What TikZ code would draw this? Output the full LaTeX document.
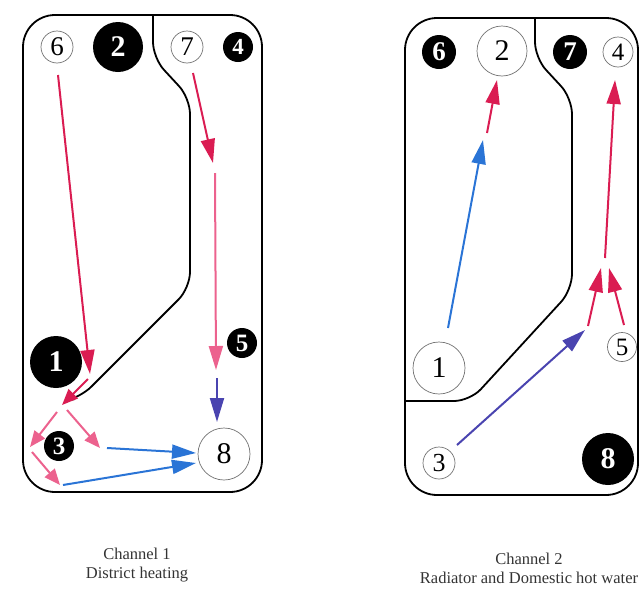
\documentclass[tikz,border=0pt]{standalone}
\usepackage{fontspec}
\setmainfont{Liberation Serif}
\usetikzlibrary{arrows.meta}
\definecolor{hotred}{RGB}{218,28,82}
\definecolor{hotpink}{RGB}{236,98,142}
\definecolor{coldblue}{RGB}{42,116,214}
\definecolor{mixblue}{RGB}{74,68,176}

\begin{document}
\begin{tikzpicture}[x=1pt,y=-1pt,
    frame/.style={line width=1.8pt, rounded corners=32pt},
    wall/.style={line width=1.8pt, rounded corners=16pt},
    blk/.style={circle, fill=black, text=white, inner sep=0pt,
      font=\bfseries\fontsize{27}{27}\selectfont},
    wht/.style={circle, draw=black!55, line width=0.7pt, fill=white, inner sep=0pt,
      font=\fontsize{27}{27}\selectfont},
    flow/.style={line width=2pt, -{Triangle[length=24pt,width=14pt]}},
    shortflow/.style={line width=2pt, -{Triangle[length=16pt,width=13pt]}},
    caption/.style={align=center, font=\fontsize{16.5}{19}\selectfont, text=black!80}]
  \useasboundingbox (0,0) rectangle (640,592);

  \draw [frame] (23,15) rectangle (262,492);
  \draw [wall] (153,15) -- (153,58) -- (190,98) -- (190,288) -- (80,398) -- (75,399);

  \draw [frame] (405,18) rectangle (638,495);
  \draw [wall] (535,18) -- (535,58) -- (572,98) -- (572,290) -- (470,401) -- (405,401);

  \node [wht, minimum size=32pt] (L6) at (57,47) {6};
  \node [blk, minimum size=50pt, font=\bfseries\fontsize{30}{30}\selectfont] (L2) at (118,47) {2};
  \node [wht, minimum size=32pt] (L7) at (187,47) {7};
  \node [blk, minimum size=30pt, font=\bfseries\fontsize{23}{23}\selectfont] (L4) at (238,47) {4};
  \node [blk, minimum size=52pt, font=\bfseries\fontsize{30}{30}\selectfont] (L1) at (56,362) {1};
  \node [blk, minimum size=30pt, font=\bfseries\fontsize{25}{25}\selectfont] (L3) at (59,446) {3};
  \node [blk, minimum size=30pt, font=\bfseries\fontsize{25}{25}\selectfont] (L5) at (242,343) {5};
  \node [wht, minimum size=52pt, font=\fontsize{30}{30}\selectfont] (L8) at (224,454) {8};

  \node [blk, minimum size=34pt] (R6) at (439,52) {6};
  \node [wht, minimum size=50pt, font=\fontsize{30}{30}\selectfont] (R2) at (502,51) {2};
  \node [blk, minimum size=34pt] (R7) at (570,52) {7};
  \node [wht, minimum size=30pt, font=\fontsize{25}{25}\selectfont] (R4) at (618,52) {4};
  \node [wht, minimum size=52pt, font=\fontsize{30}{30}\selectfont] (R1) at (439,368) {1};
  \node [wht, minimum size=29pt, font=\fontsize{25}{25}\selectfont] (R5) at (622,347) {5};
  \node [wht, minimum size=32pt, font=\fontsize{26}{26}\selectfont] (R3) at (439,463) {3};
  \node [blk, minimum size=52pt, font=\bfseries\fontsize{30}{30}\selectfont] (R8) at (608,459) {8};

  \coordinate (l6out) at (58,75);
  \coordinate (l1in) at (90,374);
  \coordinate (l1out) at (88,379);
  \coordinate (lfork) at (62,405);
  \coordinate (lforka) at (57,412);
  \coordinate (l3w) at (30,447);
  \coordinate (lforkb) at (67,410);
  \coordinate (l3e) at (100,448);
  \coordinate (l3sw) at (32,452);
  \coordinate (l3s) at (60,485);
  \coordinate (l3e2) at (107,448);
  \coordinate (l8w) at (196,453);
  \coordinate (l3s2) at (63,485);
  \coordinate (l8sw) at (196,463);
  \coordinate (l7out) at (193,73);
  \coordinate (l7mid) at (213,163);
  \coordinate (l7mid2) at (215,173);
  \coordinate (l5in) at (216,370);
  \coordinate (l5out) at (217,378);
  \coordinate (l8n) at (217,422);

  \coordinate (r1out) at (448,328);
  \coordinate (r2mid) at (483,140);
  \coordinate (r2mid2) at (487,133);
  \coordinate (r2in) at (497,80);
  \coordinate (r3out) at (457,445);
  \coordinate (rjoin) at (585,330);
  \coordinate (rjoina) at (588,326);
  \coordinate (rtipa) at (601,268);
  \coordinate (r5out) at (624,325);
  \coordinate (rtipb) at (609,268);
  \coordinate (r4from) at (605,258);
  \coordinate (r4in) at (615,80);

  \draw [flow, hotred] (l6out) -- (l1in);
  \draw [shortflow, hotred] (l1out) -- (lfork);
  \draw [shortflow, hotpink] (lforka) -- (l3w);
  \draw [shortflow, hotpink] (lforkb) -- (l3e);
  \draw [shortflow, hotpink] (l3sw) -- (l3s);
  \draw [flow, coldblue] (l3e2) -- (l8w);
  \draw [flow, coldblue] (l3s2) -- (l8sw);
  \draw [flow, hotred] (l7out) -- (l7mid);
  \draw [flow, hotpink] (l7mid2) -- (l5in);
  \draw [flow, mixblue] (l5out) -- (l8n);

  \draw [flow, coldblue] (r1out) -- (r2mid);
  \draw [flow, hotred] (r2mid2) -- (r2in);
  \draw [flow, mixblue] (r3out) -- (rjoin);
  \draw [flow, hotred] (rjoina) -- (rtipa);
  \draw [flow, hotred] (r5out) -- (rtipb);
  \draw [flow, hotred] (r4from) -- (r4in);

  \node [caption] (cap1) at (137,565) {Channel 1\\District heating};
  \node [caption] (cap2) at (529,568) {Channel 2\\Radiator and Domestic hot water};
\end{tikzpicture}
\end{document}
